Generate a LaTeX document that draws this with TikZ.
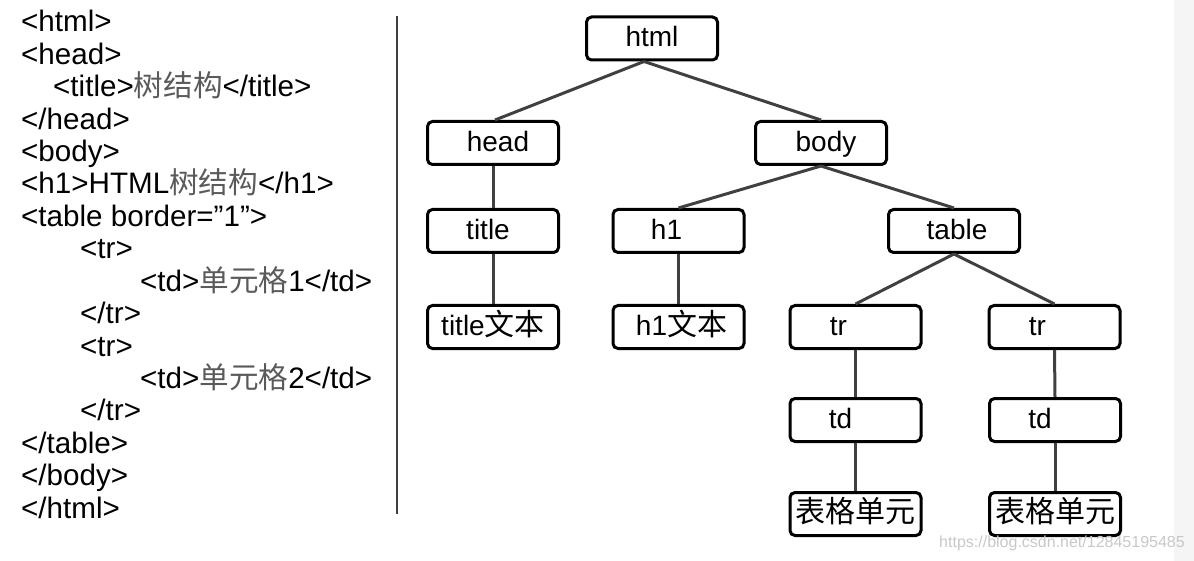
\documentclass[tikz,border=0pt]{standalone}
\usepackage{fontspec}
\setmainfont{Liberation Sans}
\newfontfamily\cjkfont{Noto Sans CJK SC}
\definecolor{linegray}{HTML}{404040}
\definecolor{cjkgray}{HTML}{5A5A5A}
\definecolor{wmgray}{HTML}{C8C8C8}
\newcommand\zhc[1]{{\cjkfont\color{cjkgray}#1}}
\newcommand\zht[1]{{\fontsize{30}{30}\selectfont\cjkfont #1}}
\begin{document}
\begin{tikzpicture}[x=1pt,y=-1pt,
  code/.style={anchor=base west,inner sep=0pt,font=\fontsize{29.6}{33}\selectfont},
  box/.style={draw=black,line width=3pt,rounded corners=5pt,minimum width=131pt,minimum height=43pt,
    inner sep=0pt,text height=21pt,text depth=4pt,font=\fontsize{28}{33}\selectfont},
  link/.style={draw=linegray,line width=3pt},
  wm/.style={inner sep=0pt,text=wmgray,font=\fontsize{16}{16}\selectfont}]
\useasboundingbox (0,0) rectangle (1194,561);
\fill[black!4] (1174,0) rectangle (1194,561);
% code listing
\node[code] (c1) at (21,32) {<html>};
\node[code] (c2) at (21,64.4) {<head>};
\node[code] (c3) at (53,96.8) {<title>\zhc{树结构}</title>};
\node[code] (c4) at (21,129.2) {</head>};
\node[code] (c5) at (21,161.6) {<body>};
\node[code] (c6) at (21,194) {<h1>HTML\zhc{树结构}</h1>};
\node[code] (c7) at (21,226.4) {<table border=”1”>};
\node[code] (c8) at (80,258.8) {<tr>};
\node[code] (c9) at (140,291.2) {<td>\zhc{单元格}1</td>};
\node[code] (c10) at (80,323.6) {</tr>};
\node[code] (c11) at (80,356) {<tr>};
\node[code] (c12) at (140,388.4) {<td>\zhc{单元格}2</td>};
\node[code] (c13) at (80,420.8) {</tr>};
\node[code] (c14) at (21,453.2) {</table>};
\node[code] (c15) at (21,485.6) {</body>};
\node[code] (c16) at (21,518) {</html>};
% separator
\coordinate (s1) at (397,16);
\coordinate (s2) at (397,514);
\draw[line width=1.5pt,linegray] (s1) -- (s2);
% tree
\node[box] (html) at (652,38.5) {html};
\node[box] (head) at (493,143) {\kern10pt head};
\node[box] (body) at (821,143) {\kern10pt body};
\node[box] (title) at (493,231) {\kern-10pt title};
\node[box] (h1) at (678.5,231) {\kern-24pt h1};
\node[box] (table) at (954,231) {\kern6pt table};
\node[box] (ttext) at (493,327) {title\zht{文本}};
\node[box] (htext) at (678.5,327) {\kern6pt h1\zht{文本}};
\node[box] (tr1) at (855.5,327) {\kern-34pt tr};
\node[box] (tr2) at (1054.5,327) {\kern-34pt tr};
\node[box] (td1) at (855.5,420) {\kern-30pt td};
\node[box] (td2) at (1055,420) {\kern-30pt td};
\node[box] (cell1) at (855.5,514) {\zht{表格单元}};
\node[box] (cell2) at (1055,514) {\zht{表格单元}};
\draw[link] ([xshift=-8pt]html.south) -- ([xshift=2pt]head.north);
\draw[link] ([xshift=-8pt]html.south) -- (body.north);
\draw[link] (head.south) -- (title.north);
\draw[link] (title.south) -- (ttext.north);
\draw[link] (body.south) -- (h1.north);
\draw[link] (body.south) -- (table.north);
\draw[link] (h1.south) -- (htext.north);
\draw[link] (table.south) -- (tr1.north);
\draw[link] (table.south) -- (tr2.north);
\draw[link] (tr1.south) -- (td1.north);
\draw[link] (tr2.south) -- (td2.north);
\draw[link] (td1.south) -- (cell1.north);
\draw[link] (td2.south) -- (cell2.north);
% watermark
\node[wm] (wmark) at (1062,543) {https://blog.csdn.net/12845195485};
\end{tikzpicture}
\end{document}
